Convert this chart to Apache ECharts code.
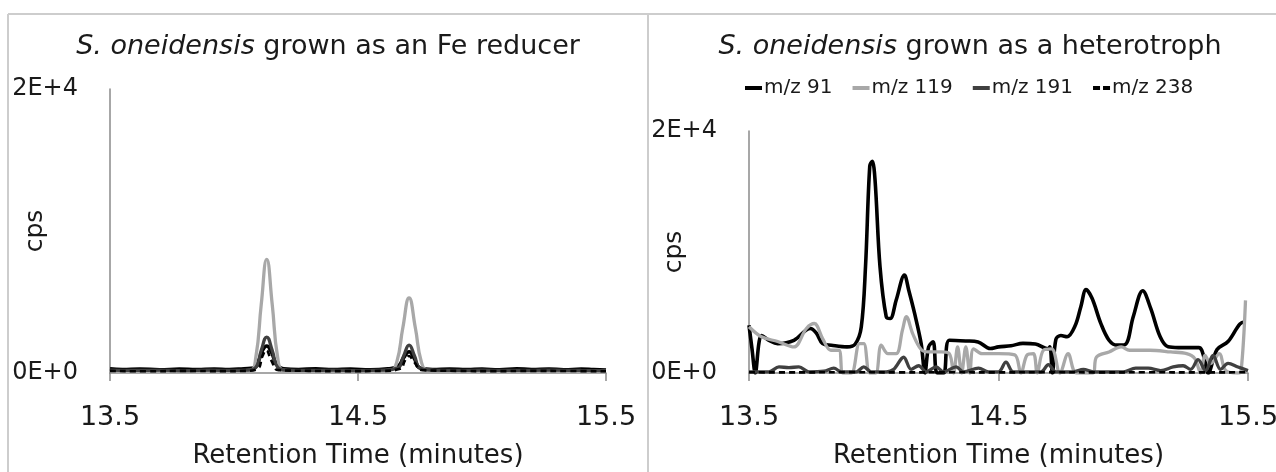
<!DOCTYPE html>
<html><head><meta charset="utf-8">
<script src="https://cdn.jsdelivr.net/npm/echarts@6/dist/echarts.min.js"></script>
<style>html,body{margin:0;padding:0;background:#fff}#c{width:1276px;height:472px}</style>
</head><body><div id="c"></div>
<script>
// ---------- data ----------
const seriesNames = ['m/z 91', 'm/z 119', 'm/z 191', 'm/z 238'];
const xTickLabels = ['13.5', '14.5', '15.5'];
const yTickLabels = ['0E+0', '2E+4'];
const titleLeft = ['S. oneidensis', ' grown as an Fe reducer'];
const titleRight = ['S. oneidensis', ' grown as a heterotroph'];

// Left panel: Fe reducer
const leftT91 = [13.5,13.55,13.62,13.7,13.78,13.85,13.92,13.98,14.04,14.08,14.1,14.115,14.132,14.15,14.17,14.2,14.26,14.33,14.4,14.47,14.55,14.62,14.66,14.685,14.706,14.725,14.75,14.8,14.87,14.94,15.0,15.07,15.14,15.2,15.27,15.33,15.4,15.45,15.5];
const leftV91 = [300,250,280,230,270,240,280,250,300,350,900,1600,1900,1500,700,300,250,290,240,270,230,300,450,1100,1500,1100,350,250,280,240,270,230,290,250,280,230,270,240,200];
const leftT119 = [13.5,13.6,13.7,13.8,13.9,14.0,14.066,14.088,14.11,14.132,14.154,14.176,14.198,14.25,14.35,14.45,14.55,14.631,14.656,14.681,14.706,14.731,14.756,14.781,14.85,14.95,15.05,15.15,15.25,15.35,15.5];
const leftV119 = [150,120,140,120,130,150,200,1100,4850,8000,4850,1100,200,150,140,130,150,200,750,3200,5280,3200,750,200,150,140,150,130,150,140,130];
const leftT191 = [13.5,13.6,13.7,13.8,13.9,14.0,14.05,14.088,14.11,14.132,14.154,14.176,14.21,14.3,14.4,14.5,14.6,14.66,14.684,14.706,14.728,14.75,14.8,14.9,15.0,15.1,15.2,15.3,15.4,15.5];
const leftV191 = [200,180,200,170,200,180,200,400,1600,2530,1600,400,200,180,200,170,200,350,1200,1970,1200,350,200,180,200,180,190,200,180,170];
const leftT238 = [13.5,13.65,13.8,13.95,14.05,14.095,14.115,14.13,14.15,14.18,14.3,14.45,14.6,14.67,14.69,14.706,14.725,14.76,14.9,15.05,15.2,15.35,15.5];
const leftV238 = [150,120,150,130,150,300,1200,1600,900,200,150,130,150,300,900,1200,800,200,150,130,150,140,120];

// Right panel: heterotroph
const rightT91 = [13.5,13.512,13.525,13.54,13.55,13.58,13.615,13.68,13.746,13.77,13.795,13.83,13.893,13.926,13.95,13.967,13.984,13.994,14.005,14.025,14.05,14.066,14.09,14.123,14.14,14.164,14.19,14.205,14.22,14.238,14.254,14.28,14.303,14.369,14.418,14.467,14.5,14.55,14.598,14.648,14.697,14.706,14.716,14.73,14.75,14.775,14.807,14.83,14.851,14.875,14.91,14.943,14.975,15.008,15.04,15.078,15.11,15.148,15.18,15.221,15.303,15.325,15.34,15.376,15.42,15.468,15.49];
const rightV91 = [3950,2000,0,2500,3100,2700,2430,2700,3680,3300,2430,2300,2160,2400,3800,8800,17100,17500,16000,8800,4650,4500,6030,8100,6860,4900,2430,0,2160,2570,0,0,2710,2650,2570,2020,2160,2250,2450,2400,2000,2160,0,2780,3100,3000,3900,5480,6890,6170,4100,2710,2300,2360,4650,6800,5340,2990,2160,2100,2100,1200,0,1940,2600,4060,4230];
const rightT119 = [13.5,13.55,13.615,13.68,13.73,13.762,13.795,13.828,13.86,13.877,13.91,13.943,13.96,13.984,14.008,14.03,14.057,14.09,14.115,14.131,14.156,14.19,14.22,14.27,14.303,14.32,14.336,14.352,14.369,14.385,14.4,14.434,14.5,14.565,14.59,14.615,14.64,14.655,14.68,14.713,14.746,14.779,14.812,14.877,14.893,14.943,14.992,15.025,15.107,15.19,15.254,15.287,15.31,15.328,15.35,15.385,15.41,15.459,15.472,15.49];
const rightV119 = [3820,2990,2600,2160,3680,4090,2850,1880,1880,0,0,2430,2430,0,0,2300,1600,1600,3540,4650,3260,1940,1740,1740,1600,0,2160,0,2160,0,2000,1600,1600,1500,0,1500,1600,0,1880,2000,0,1600,0,0,1330,1740,2160,1880,1880,1740,1600,1190,0,1450,770,1600,220,0,100,6000];
const rightT191 = [13.5,13.58,13.62,13.66,13.7,13.74,13.8,13.84,13.87,13.93,13.96,13.99,14.05,14.08,14.12,14.15,14.18,14.21,14.25,14.28,14.33,14.36,14.42,14.46,14.5,14.53,14.56,14.67,14.7,14.73,14.8,14.84,14.88,15.0,15.05,15.1,15.15,15.2,15.24,15.27,15.3,15.33,15.36,15.39,15.42,15.46,15.5];
const rightV191 = [100,100,500,450,500,100,150,400,100,100,500,100,100,300,1300,300,600,100,500,100,500,100,400,100,100,900,100,100,700,100,100,300,100,100,400,400,200,500,600,300,1100,200,1450,300,800,500,200];
const rightT238 = [13.5,13.7,13.9,14.1,14.3,14.5,14.7,14.9,15.1,15.3,15.5];
const rightV238 = [60,50,70,50,60,50,70,50,60,50,60];

// ---------- build ----------
const pairs = (t, v) => t.map((x, i) => [x, v[i]]);
const FONT = 'DejaVu Sans';
const TXT = '#1a1a1a';
const AXC = '#8a8a8a';
const lineColors = ['#000000', '#a8a8a8', '#404040', '#000000'];
const lineWidths = [3.6, 3.3, 3.3, 2.6];

function mkSeries(name, idx, data, smooth) {
  const k = seriesNames.indexOf(name);
  const dashed = k === 3;
  return {
    name, type: 'line', xAxisIndex: idx, yAxisIndex: idx,
    data, showSymbol: false, symbol: 'none', smooth,
    lineStyle: { color: lineColors[k], width: lineWidths[k], type: dashed ? [6, 4] : 'solid' },
    itemStyle: { color: lineColors[k] },
    animation: false
  };
}

function xAxisCfg(idx) {
  return {
    type: 'value', gridIndex: idx, min: 13.5, max: 15.5, interval: 1,
    name: 'Retention Time (minutes)', nameLocation: 'middle', nameGap: 70, nameMoveOverlap: false,
    nameTextStyle: { fontFamily: FONT, fontSize: 26, color: TXT },
    axisLine: { show: true, lineStyle: { color: AXC, width: 1.5 } },
    axisTick: { show: true, length: 8, lineStyle: { color: AXC, width: 1.5 } },
    axisLabel: { fontFamily: FONT, fontSize: 27, color: TXT, margin: 31,
      formatter: v => xTickLabels[Math.round(v - 13.5)] },
    splitLine: { show: false }
  };
}
function yAxisCfg(idx) {
  return {
    type: 'value', gridIndex: idx, min: 0, max: 20000, interval: 20000,
    name: 'cps', nameLocation: 'middle', nameGap: 62, nameRotate: 90, nameMoveOverlap: false,
    nameTextStyle: { fontFamily: FONT, fontSize: 25, color: TXT },
    axisLine: { show: true, lineStyle: { color: AXC, width: 1.5 } },
    axisTick: { show: false },
    axisLabel: { fontFamily: FONT, fontSize: 24, color: TXT, margin: 32,
      formatter: v => yTickLabels[v === 0 ? 0 : 1] },
    splitLine: { show: false }
  };
}
function titleCfg(parts, cx) {
  return {
    text: '{i|' + parts[0] + '}' + parts[1],
    left: cx, top: 28, textAlign: 'center',
    textStyle: { fontFamily: FONT, fontSize: 27, fontWeight: 'normal', color: TXT,
      rich: { i: { fontFamily: FONT, fontSize: 27, fontStyle: 'italic', color: TXT } } }
  };
}

const series = [
  mkSeries('m/z 91', 0, pairs(leftT91, leftV91), 0.5),
  mkSeries('m/z 119', 0, pairs(leftT119, leftV119), 0.5),
  mkSeries('m/z 191', 0, pairs(leftT191, leftV191), 0.5),
  mkSeries('m/z 238', 0, pairs(leftT238, leftV238), 0.5),
  mkSeries('m/z 91', 1, pairs(rightT91, rightV91), 0.35),
  mkSeries('m/z 119', 1, pairs(rightT119, rightV119), 0.35),
  mkSeries('m/z 191', 1, pairs(rightT191, rightV191), 0.35),
  mkSeries('m/z 238', 1, pairs(rightT238, rightV238), 0.35)
];

const dashIcon = 'path://M0,0h7v4h-7z M10,0h7v4h-7z';
const solidIcon = 'path://M0,0h17v4h-17z';

const chart = echarts.init(document.getElementById('c'), null, { renderer: 'canvas' });
chart.setOption({
  animation: false,
  backgroundColor: '#ffffff',
  title: [titleCfg(titleLeft, 323), titleCfg(titleRight, 965)],
  legend: {
    data: seriesNames.map((n, k) => ({ name: n, icon: k === 3 ? dashIcon : solidIcon,
      itemStyle: { color: lineColors[k] } })),
    left: 740, top: 73, itemWidth: 17, itemHeight: 4, itemGap: 20,
    textStyle: { fontFamily: FONT, fontSize: 20, color: TXT, padding: [0, 0, 0, -3] },
    selectedMode: false
  },
  grid: [
    { left: 110, right: 670, top: 89, bottom: 99, outerBoundsMode: 'none' },
    { left: 749, right: 28, top: 131, bottom: 99, outerBoundsMode: 'none' }
  ],
  xAxis: [xAxisCfg(0), xAxisCfg(1)],
  yAxis: [yAxisCfg(0), yAxisCfg(1)],
  graphic: [
    { type: 'line', shape: { x1: 8, y1: 14, x2: 1276, y2: 14 }, style: { stroke: '#cdcdcd', lineWidth: 2 } },
    { type: 'line', shape: { x1: 8, y1: 14, x2: 8, y2: 472 }, style: { stroke: '#cdcdcd', lineWidth: 2 } },
    { type: 'line', shape: { x1: 648, y1: 14, x2: 648, y2: 472 }, style: { stroke: '#cdcdcd', lineWidth: 2 } }
  ],
  series
});
</script></body></html>
